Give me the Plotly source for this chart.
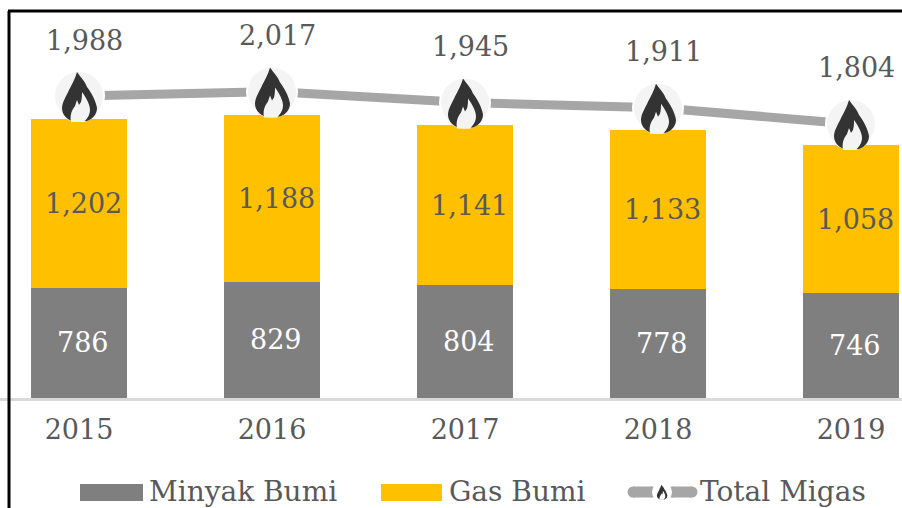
import plotly.graph_objects as go

years = ["2015", "2016", "2017", "2018", "2019"]
minyak = [786, 829, 804, 778, 746]
gas = [1202, 1188, 1141, 1133, 1058]
total = [1988, 2017, 1945, 1911, 1804]

GREY, GOLD, LINE, TXT = "#7f7f7f", "#ffc000", "#a6a6a6", "#595959"
FONT = "DejaVu Serif"
W, H, BASE = 902, 508, 398
SCALE = 0.1403      # px per unit, bars
SCALE2 = 0.152      # px per unit, total line
pos = list(range(len(years)))


def flame(s=1.0, dy=0):
    outer = [("M", -2, 24), ("C", 2, 18, 6, 15, 8, 9), ("C", 12, 4, 17, -5, 18, -12), ("C", 18, -18, 14, -23, 8, -25),
             ("L", -7, -25), ("C", -13, -23, -17, -18, -17, -12), ("C", -17, -6, -12, 1, -10, 6), ("C", -7, 12, -4, 17, -2, 24), ("Z",)]
    inner = [("M", -8, -26), ("C", -9, -20, -8, -15, -4, -10), ("L", -2, -4), ("L", 0, -9), ("L", 2, -6), ("C", 3, -2, 3, 1, 3, 4),
             ("C", 8, -3, 11, -9, 11, -14), ("C", 11, -19, 8, -23, 5, -26), ("Z",)]
    def p(cmds):
        out = []
        for c in cmds:
            pts = c[1:]
            out.append(c[0] + " ".join(
                f"{pts[i]*s:.1f},{(pts[i+1]*s+dy):.1f}" for i in range(0, len(pts), 2)))
        return " ".join(out)
    return p(outer), p(inner)


fig = go.Figure()
fig.add_bar(x=pos, y=minyak, name="Minyak Bumi", marker_color=GREY, marker_line_width=0, width=0.5, showlegend=False)
fig.add_bar(x=pos, y=gas, name="Gas Bumi", marker_color=GOLD, marker_line_width=0, width=0.5, showlegend=False)
fig.add_scatter(x=pos, y=total, name="Total Migas", mode="lines+markers", yaxis="y2", showlegend=False,
                line=dict(color=LINE, width=9),
                marker=dict(size=50, color="#f4f4f4", line=dict(color="white", width=2)))

shapes, ann = [], []
fo, fi = flame()
for i, t in zip(pos, total):
    shapes.append(dict(type="path", layer="above", xref="x", yref="y2", xsizemode="pixel", ysizemode="pixel",
                       xanchor=i, yanchor=t, path=fo, fillcolor="#333333", line_width=0))
    shapes.append(dict(type="path", layer="above", xref="x", yref="y2", xsizemode="pixel", ysizemode="pixel",
                       xanchor=i, yanchor=t, path=fi, fillcolor="#f4f4f4", line_width=0))

txt = dict(family=FONT, size=27, color=TXT)
for i, m, g, t in zip(pos, minyak, gas, total):
    ann.append(dict(x=i, xref="x", y=m / 2, yref="y", text=f"{m:,}", showarrow=False, xshift=4,
                    font=dict(family=FONT, size=27, color="white")))
    ann.append(dict(x=i, xref="x", y=m + g / 2, yref="y", text=f"{g:,}", showarrow=False, xshift=4, font=txt))
    ann.append(dict(x=i, xref="x", y=t, yref="y2", text=f"{t:,}", showarrow=False, xshift=5, yshift=56, font=txt))

# legend
def px(x): return x / W
def py(y): return 1 - y / BASE
shapes.append(dict(type="rect", xref="paper", yref="paper", x0=px(80), x1=px(143), y0=py(501), y1=py(484), fillcolor=GREY, line_width=0))
shapes.append(dict(type="rect", xref="paper", yref="paper", x0=px(381), x1=px(442), y0=py(501), y1=py(484), fillcolor=GOLD, line_width=0))
for a, b in ((633, 652), (672, 692)):
    shapes.append(dict(type="path", xref="paper", yref="paper", xsizemode="pixel", ysizemode="pixel",
                       xanchor=px(a), yanchor=py(492), path=f"M0,0 L{b-a},0", line=dict(color=LINE, width=11)))
    shapes.append(dict(type="circle", xref="paper", yref="paper", x0=px(a - 5.5), x1=px(a + 5.5), y0=py(497.5), y1=py(486.5),
                       fillcolor=LINE, line_width=0))
    shapes.append(dict(type="circle", xref="paper", yref="paper", x0=px(b - 5.5), x1=px(b + 5.5), y0=py(497.5), y1=py(486.5),
                       fillcolor=LINE, line_width=0))
shapes.append(dict(type="circle", xref="paper", yref="paper", x0=px(652), x1=px(672), y0=py(502), y1=py(482),
                   fillcolor="white", line_width=0))
fs = 0.3
fo2, fi2 = flame(fs)
for path, col in ((fo2, "#333333"), (fi2, "white")):
    shapes.append(dict(type="path", xref="paper", yref="paper", xsizemode="pixel", ysizemode="pixel",
                       xanchor=px(662), yanchor=py(492), path=path, fillcolor=col, line_width=0))
for x, label in ((147, "Minyak Bumi"), (447, "Gas Bumi"), (698, "Total Migas")):
    ann.append(dict(xref="paper", yref="paper", x=px(x), y=py(491), xanchor="left", yanchor="middle", text=label,
                    showarrow=False, font=dict(family=FONT, size=28, color=TXT)))

# frame
shapes.append(dict(type="line", xref="paper", yref="paper", x0=px(8), x1=1, y0=py(11), y1=py(11), line=dict(color="black", width=3)))
shapes.append(dict(type="line", xref="paper", yref="paper", x0=px(9), x1=px(9), y0=py(11), y1=py(H), line=dict(color="black", width=3)))

fig.update_layout(
    width=W, height=H, autosize=False, barmode="stack", bargap=0.5,
    margin=dict(l=0, r=0, t=0, b=H - BASE), paper_bgcolor="white", plot_bgcolor="white", showlegend=False,
    xaxis=dict(range=[-79 / 193, (W - 79) / 193], tickmode="array", tickvals=pos, ticktext=years,
               showgrid=False, showline=True, linecolor="#d9d9d9", linewidth=3, ticks="outside", ticklen=6,
               tickcolor="rgba(0,0,0,0)", tickfont=dict(family=FONT, size=27, color=TXT), zeroline=False),
    yaxis=dict(range=[0, BASE / SCALE], visible=False, fixedrange=True),
    yaxis2=dict(overlaying="y", range=[1988 - (BASE - 96) / SCALE2, 1988 + 96 / SCALE2], visible=False, fixedrange=True),
    shapes=shapes, annotations=ann,
)
fig.write_html("out.html", config={"displayModeBar": False},
               post_script="document.body.style.margin='0';document.documentElement.style.overflow='hidden';")
